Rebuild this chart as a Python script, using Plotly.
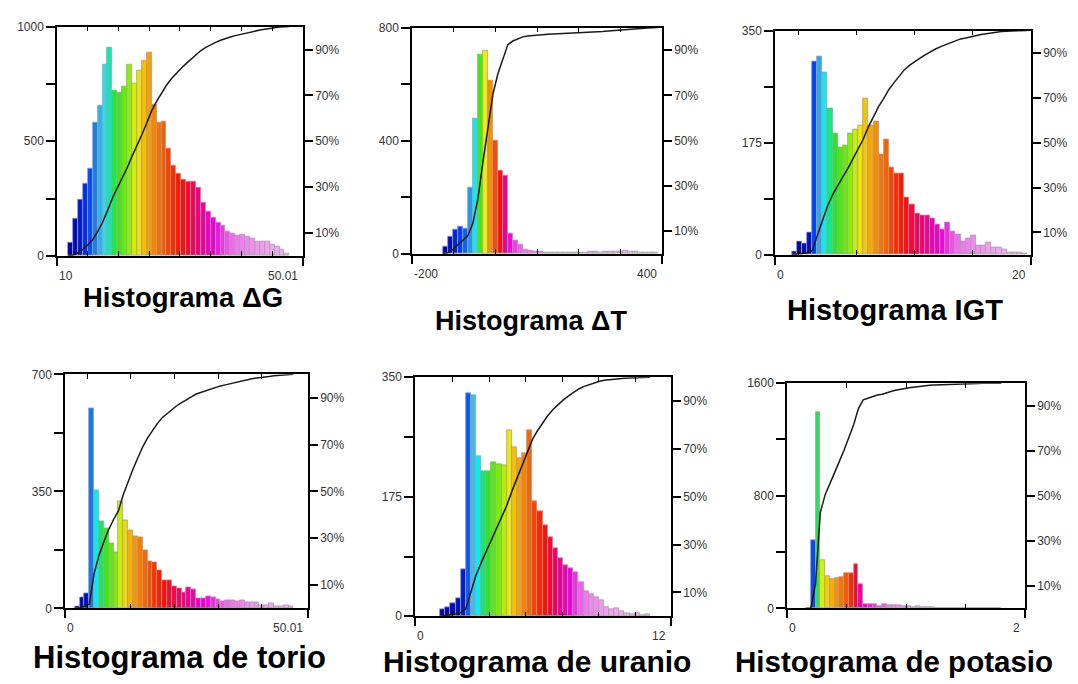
import plotly.graph_objects as go
import numpy as np

# ---------------- data ----------------
titles = ["Histograma ΔG", "Histograma ΔT", "Histograma IGT",
          "Histograma de torio", "Histograma de uranio", "Histograma de potasio"]

x_ranges = [[10, 50.01], [-200, 400], [0, 20], [0, 50.01], [0, 12], [0, 2]]
x_labels = [["10", "50.01"], ["-200", "400"], ["0", "20"], ["0", "50.01"], ["0", "12"], ["0", "2"]]
y_max = [1000, 800, 350, 700, 350, 1600]
y_labels = [["0", "500", "1000"], ["0", "400", "800"], ["0", "175", "350"],
            ["0", "350", "700"], ["0", "175", "350"], ["0", "800", "1600"]]
inner_ticks = [[15, 20, 25, 30, 35, 40, 45],
               [-100, 0, 100, 200, 300],
               [1.8, 6.35, 10.9, 15.45],
               [4.65, 13.55, 22.45, 31.5, 40.4],
               [1.75, 3.47, 5.19, 6.9, 8.62, 10.34],
               [0.5, 1.0, 1.5]]
pct_ticks = [10, 30, 50, 70, 90]

# histogram bins (start, width) and counts
dg_start, dg_width = 11.8, 0.8
dg_counts = [58, 161, 246, 313, 381, 583, 654, 836, 910, 721, 711, 740, 836, 751, 806, 853,
             886, 659, 580, 585, 467, 395, 360, 331, 324, 324, 296, 232, 192, 168, 147, 132,
             104, 97, 90, 92, 83, 73, 64, 64, 61, 47, 40, 26, 11]

dt_start, dt_width = -126, 12
dt_counts = [24, 60, 85, 96, 90, 233, 477, 705, 717, 614, 399, 296, 276, 70, 48, 33, 16, 11, 8,
             8, 6, 5, 4, 3, 3, 4, 5, 4, 6, 7, 8, 6, 8, 9, 8, 9, 10, 9, 7, 5, 4, 3, 5]

igt_start, igt_width = 1.3, 0.4
igt_counts = [5, 20, 18, 35, 301, 309, 284, 228, 190, 167, 170, 190, 196, 201, 244, 201, 208,
              157, 180, 137, 127, 127, 89, 79, 64, 62, 62, 56, 48, 40, 50, 37, 32, 20, 25, 30,
              14, 15, 19, 11, 12, 9, 4, 4, 3, 2]

th_start, th_width = 2.0, 1.0
th_counts = [7, 34, 44, 598, 353, 259, 241, 194, 168, 319, 263, 233, 217, 214, 173, 141, 137,
             114, 83, 83, 67, 61, 48, 63, 56, 31, 31, 37, 33, 26, 20, 24, 24, 21, 24, 17, 17,
             17, 10, 10, 15, 7, 5, 9, 5]

u_start, u_width = 1.18, 0.24
u_counts = [10, 13, 19, 27, 69, 326, 323, 235, 213, 213, 226, 223, 221, 272, 248, 232, 238,
            273, 169, 154, 133, 116, 99, 85, 74, 70, 64, 50, 37, 32, 28, 23, 13, 10, 12, 7, 5,
            3, 5, 1, 3]

k_start, k_width = 0.16, 0.04
k_counts = [5, 487, 1396, 346, 232, 209, 218, 225, 248, 248, 318, 172, 32, 32, 32, 16, 32, 25,
            23, 20, 16, 14, 12, 14, 10, 8, 6, 5, 5, 4, 4, 3, 3, 3, 2, 2, 2, 1, 1, 1, 1]

hist_data = [(dg_start, dg_width, dg_counts), (dt_start, dt_width, dt_counts),
             (igt_start, igt_width, igt_counts), (th_start, th_width, th_counts),
             (u_start, u_width, u_counts), (k_start, k_width, k_counts)]

# ---------------- layout geometry (pixels) ----------------
W, H = 1078, 684
boxes = [(57, 303, 20, 254), (412, 662, 21, 252), (775, 1031, 24, 253),
         (65, 308, 375, 614), (415, 671, 378, 622), (787, 1025, 384, 614)]
title_pos = [(183, 297, 27.5), (531, 321, 27), (895, 309, 29),
             (179, 664, 31), (537, 668, 30), (894, 668, 29.5)]

colorscale = [[0.00, "#0000b0"], [0.05, "#0040ff"], [0.10, "#2090e8"], [0.15, "#40d0f0"],
              [0.20, "#00f0f0"], [0.25, "#10e870"], [0.30, "#30e818"], [0.40, "#80f000"],
              [0.48, "#f0f000"], [0.55, "#f8c000"], [0.63, "#f89000"], [0.72, "#f86000"],
              [0.82, "#ff1000"], [0.88, "#f00070"], [0.93, "#f000e0"], [0.96, "#f070f0"],
              [1.00, "#f0b0f0"]]

FONT = "Liberation Sans, Arial, sans-serif"

def ax(kind, i):
    return kind if i == 1 else f"{kind}{i}"

def lay(kind, i):
    return f"{kind}axis" if i == 1 else f"{kind}axis{i}"

fig = go.Figure()
layout = {}
annotations = []

for p in range(6):
    i = p + 1
    top_i = i + 6
    start, width, counts = hist_data[p]
    counts = np.array(counts, dtype=float)
    n = len(counts)
    edges = start + width * np.arange(n + 1)
    centers = (edges[:-1] + edges[1:]) / 2
    cum = np.concatenate([[0], np.cumsum(counts)]) / counts.sum() * 100
    cum_mid = (cum[:-1] + cum[1:]) / 2

    fig.add_trace(go.Bar(
        x=centers, y=counts, width=width,
        marker=dict(color=cum_mid, colorscale=colorscale, cmin=0, cmax=100,
                    line=dict(color="#a0a0a0", width=0.8)),
        xaxis=ax("x", i), yaxis=ax("y", i), showlegend=False, hoverinfo="skip"))
    fig.add_trace(go.Scatter(
        x=edges, y=cum, mode="lines", line=dict(color="#1a1a1a", width=1.5),
        xaxis=ax("x", i), yaxis=ax("y", top_i), showlegend=False, hoverinfo="skip"))
    fig.add_trace(go.Scatter(
        x=[None], y=[None], mode="lines", xaxis=ax("x", top_i), yaxis=ax("y", i),
        showlegend=False, hoverinfo="skip"))

    x0, x1, y0, y1 = boxes[p]
    xd = [x0 / W, x1 / W]
    yd = [1 - y1 / H, 1 - y0 / H]
    xr = x_ranges[p]
    ym = y_max[p]
    yl = y_labels[p]

    layout[lay("x", i)] = dict(
        domain=xd, anchor=ax("y", i), range=xr, tickmode="array", tickvals=xr,
        ticks="outside", ticklen=8, tickwidth=1.5, tickcolor="black",
        showticklabels=False, showline=True, linecolor="black", linewidth=1.5,
        showgrid=False, zeroline=False,
        minor=dict(tickmode="array", tickvals=inner_ticks[p], ticks="inside",
                   ticklen=5, tickwidth=1.3, tickcolor="black", showgrid=False))
    layout[lay("x", top_i)] = dict(
        overlaying=ax("x", i), anchor=ax("y", i), side="top", range=xr,
        tickmode="array", tickvals=inner_ticks[p], ticks="inside", ticklen=5,
        tickwidth=1.3, tickcolor="black", showticklabels=False, showline=True,
        linecolor="black", linewidth=1.5, showgrid=False, zeroline=False)
    layout[lay("y", i)] = dict(
        domain=yd, anchor=ax("x", i), range=[0, ym], tickmode="array",
        tickvals=[0, ym / 4, ym / 2, 3 * ym / 4, ym],
        ticktext=[yl[0], "", yl[1], "", yl[2]],
        ticks="outside", ticklen=9, tickwidth=1.5, tickcolor="black",
        showline=True, linecolor="black", linewidth=1.5, showgrid=False, zeroline=False,
        tickfont=dict(family=FONT, size=12, color="#333"))
    layout[lay("y", top_i)] = dict(
        overlaying=ax("y", i), anchor=ax("x", i), side="right", range=[0, 100],
        tickmode="array", tickvals=pct_ticks, ticktext=[f"{v}%" for v in pct_ticks],
        ticks="outside", ticklen=8, tickwidth=1.5, tickcolor="black",
        showline=True, linecolor="black", linewidth=1.5, showgrid=False, zeroline=False,
        tickfont=dict(family=FONT, size=12, color="#333"))

    xl = x_labels[p]
    annotations.append(dict(x=xr[0], xref=ax("x", i), y=0, yref=ax("y", i) + " domain",
                            text=xl[0], showarrow=False, xanchor="left", yanchor="top",
                            xshift=0, yshift=-11, font=dict(family=FONT, size=12, color="#333")))
    annotations.append(dict(x=xr[1], xref=ax("x", i), y=0, yref=ax("y", i) + " domain",
                            text=xl[1], showarrow=False, xanchor="right", yanchor="top",
                            xshift=-3, yshift=-11, font=dict(family=FONT, size=12, color="#333")))
    tx, ty, ts = title_pos[p]
    annotations.append(dict(x=tx / W, y=1 - ty / H, xref="paper", yref="paper",
                            text=f"<b>{titles[p]}</b>", showarrow=False,
                            xanchor="center", yanchor="middle",
                            font=dict(family=FONT, size=ts, color="black")))

fig.update_layout(**layout)
fig.update_layout(width=W, height=H, margin=dict(l=0, r=0, t=0, b=0),
                  paper_bgcolor="white", plot_bgcolor="white", bargap=0,
                  annotations=annotations, showlegend=False)
fig.write_html("out.html", config={"displayModeBar": False},
               post_script="document.body.style.margin='0';document.body.style.overflow='hidden';")
